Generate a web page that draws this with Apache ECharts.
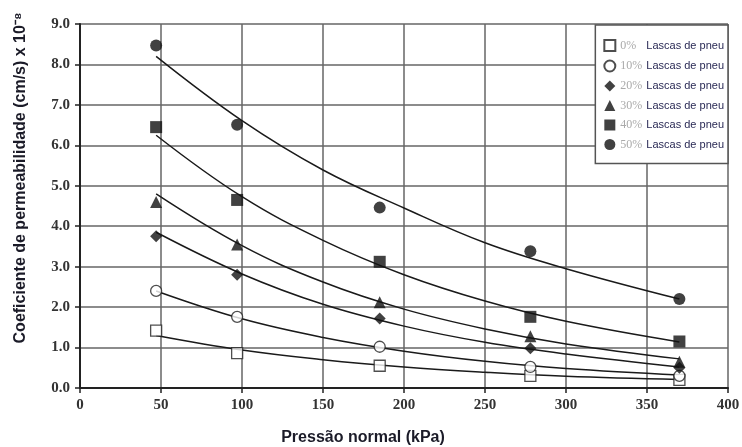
<!DOCTYPE html>
<html>
<head>
<meta charset="utf-8">
<script src="https://cdn.jsdelivr.net/npm/echarts@6/dist/echarts.min.js"></script>
<style>
html,body{margin:0;padding:0;background:#fff;}
#chart{width:742px;height:447px;}
</style>
</head>
<body>
<div id="chart"></div>
<script>
// Measured points (x = normal pressure kPa)
var pressure = [47, 97, 185, 278, 370];
var k0  = [1.42, 0.86, 0.55, 0.30, 0.20];
var k10 = [2.40, 1.76, 1.02, 0.52, 0.30];
var k20 = [3.75, 2.80, 1.72, 0.98, 0.50];
var k30 = [4.60, 3.55, 2.12, 1.28, 0.65];
var k40 = [6.45, 4.65, 3.12, 1.76, 1.15];
var k50 = [8.47, 6.51, 4.46, 3.38, 2.20];

// Trend lines
var trendX = [47, 100, 150, 200, 250, 300, 370];
var t0  = [1.30, 0.94, 0.70, 0.52, 0.39, 0.29, 0.21];
var t10 = [2.40, 1.71, 1.25, 0.91, 0.66, 0.48, 0.32];
var t20 = [3.85, 2.82, 2.07, 1.53, 1.13, 0.84, 0.52];
var t30 = [4.80, 3.52, 2.62, 1.95, 1.46, 1.09, 0.72];
var t40 = [6.25, 4.73, 3.65, 2.80, 2.15, 1.65, 1.14];
var t50 = [8.20, 6.61, 5.39, 4.45, 3.59, 2.95, 2.20];

var seriesNames = ['0%', '10%', '20%', '30%', '40%', '50%'];
var legendSuffix = 'Lascas de pneu';
var xTicks = [0, 50, 100, 150, 200, 250, 300, 350, 400];
var yTicks = [0, 1, 2, 3, 4, 5, 6, 7, 8, 9];

var pts = [k0, k10, k20, k30, k40, k50];
var trends = [t0, t10, t20, t30, t40, t50];
var symbols = ['rect', 'circle', 'diamond', 'triangle', 'rect', 'circle'];
var sizes = [11, 11, 12, 12, 12, 12];
var filled = [false, false, true, true, true, true];

function pair(xs, ys) { return xs.map(function (x, i) { return [x, ys[i]]; }); }

var series = [];
trends.forEach(function (t, i) {
  series.push({
    name: 'trend' + i, type: 'line', data: pair(trendX, t),
    smooth: 0.4, symbol: 'none', silent: true,
    lineStyle: { color: '#1a1a1a', width: 1.5 }, z: 2
  });
});
pts.forEach(function (p, i) {
  series.push({
    name: seriesNames[i], type: 'scatter', data: pair(pressure, p),
    symbol: symbols[i], symbolSize: sizes[i],
    itemStyle: filled[i] ? { color: '#111' } : { color: '#fff', borderColor: '#222', borderWidth: 1.3 },
    z: 5
  });
});

var chart = echarts.init(document.getElementById('chart'));
chart.setOption({
  animation: false,
  backgroundColor: '#fff',
  grid: { left: 80, right: 14, top: 24, bottom: 59, containLabel: false, outerBoundsMode: 'none' },
  xAxis: {
    type: 'value', min: 0, max: 400, interval: 50,
    name: 'Pressão normal (kPa)', nameLocation: 'middle', nameGap: 42,
    nameTextStyle: { fontFamily: 'Liberation Sans', fontWeight: 'bold', fontSize: 16, color: '#1b1b28', padding: [0, 82, 0, 0] },
    axisLine: { show: true, lineStyle: { color: '#222', width: 2 } },
    axisTick: { show: true, length: 5, inside: false, lineStyle: { color: '#222', width: 1.5 } },
    axisLabel: { fontFamily: 'Liberation Serif', fontWeight: 'bold', fontSize: 15, color: '#333', margin: 10,
      formatter: function (v) { return xTicks.indexOf(v) >= 0 ? String(v) : ''; } },
    splitLine: { show: true, lineStyle: { color: '#666', width: 1.5 } }
  },
  yAxis: {
    type: 'value', min: 0, max: 9, interval: 1,
    name: 'Coeficiente de permeabilidade (cm/s) x 10⁻⁸', nameLocation: 'middle', nameGap: 51, nameRotate: 90,
    nameTextStyle: { fontFamily: 'Liberation Sans', fontWeight: 'bold', fontSize: 16, color: '#1b1b28', padding: [0, 0, 0, 56] },
    axisLine: { show: true, lineStyle: { color: '#222', width: 2 } },
    axisTick: { show: true, length: 5, lineStyle: { color: '#222', width: 1.5 } },
    axisLabel: { fontFamily: 'Liberation Serif', fontWeight: 'bold', fontSize: 15, color: '#333', margin: 10,
      formatter: function (v) { return yTicks.indexOf(v) >= 0 ? v.toFixed(1) : ''; } },
    splitLine: { show: true, lineStyle: { color: '#666', width: 1.5 } }
  },
  legend: {
    data: seriesNames,
    orient: 'vertical', right: 14, top: 25,
    padding: [14, 4, 13, 8], itemGap: 7.5, itemWidth: 11, itemHeight: 11,
    backgroundColor: '#fff', borderColor: '#555', borderWidth: 1.5,
    formatter: function (n) { return '{a|' + n + '}{b|' + legendSuffix + '}'; },
    textStyle: {
      rich: {
        a: { fontFamily: 'Liberation Serif', fontSize: 12, color: '#aaa', width: 26 },
        b: { fontFamily: 'Liberation Sans', fontSize: 11, color: '#2a2a55', height: 11 }
      }
    }
  },
  series: series
});
</script>
</body>
</html>
